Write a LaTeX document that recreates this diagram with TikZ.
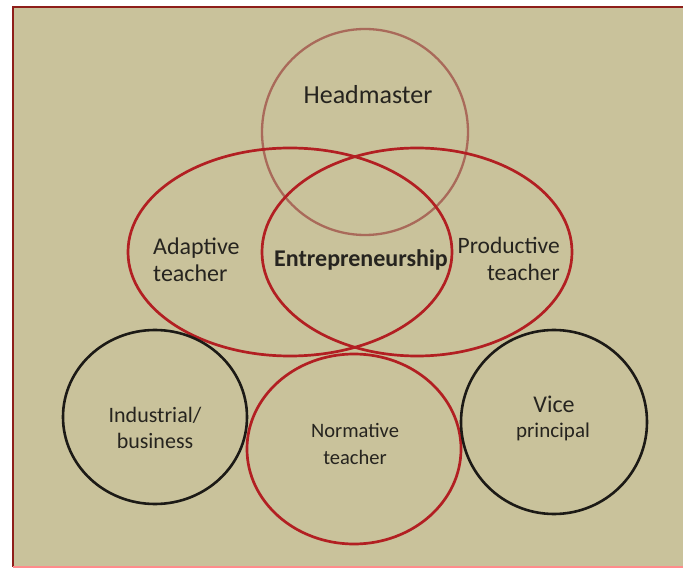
\documentclass[tikz,border=0pt]{standalone}
\usepackage{fontspec}
\setmainfont{Carlito}
\definecolor{bg}{HTML}{C9C29B}
\definecolor{frame}{HTML}{8E1E1A}
\definecolor{redline}{HTML}{B21F22}
\definecolor{headline}{HTML}{A96A5A}
\definecolor{blackline}{HTML}{1C1A16}
\definecolor{txt}{HTML}{26241F}
\tikzset{
  redring/.style={draw=redline, line width=2.7pt},
  headring/.style={draw=headline, line width=2.3pt},
  blackring/.style={draw=blackline, line width=2.6pt},
  lbl/.style={text=txt, inner sep=0pt, align=center},
}
\begin{document}
\begin{tikzpicture}[x=1pt,y=-1pt]
\useasboundingbox (0,0) rectangle (683,569);
\fill[white] (0,0) rectangle (683,569);
\fill[bg] (13,7) rectangle (695,567);
\draw[frame, line width=2.2pt] (13,567) -- (13,7) -- (695,7);
\draw[red!45, line width=1.5pt] (13,567) -- (695,567);
% shapes
\draw[headring] (365,132) circle [radius=103];
\draw[redring] (290,252) ellipse [x radius=162, y radius=104];
\draw[redring] (417,252) ellipse [x radius=155, y radius=104];
\draw[blackring] (155,417) ellipse [x radius=92, y radius=87];
\draw[redring] (354,449) ellipse [x radius=107, y radius=95];
\draw[blackring] (554,422) ellipse [x radius=93, y radius=92];
% labels
\node[lbl, font=\fontsize{26}{30}\selectfont] (head) at (368,95) {Headmaster};
\node[lbl, align=left, font=\fontsize{24}{27}\selectfont, anchor=west] (adapt) at (153,260) {Adaptive\\teacher};
\node[lbl, font=\fontsize{24}{27}\bfseries\selectfont] (entre) at (361,260) {Entrepreneurship};
\node[lbl, align=right, font=\fontsize{23.5}{27}\selectfont, anchor=east] (prod) at (560,259) {Productive\\teacher};
\node[lbl, font=\fontsize{22}{26}\selectfont] (ind) at (155,428) {Industrial/\\business};
\node[lbl, font=\fontsize{20.5}{27}\selectfont] (norm) at (355,444) {Normative\\teacher};
\node[lbl, font=\fontsize{24}{27}\selectfont] (vice) at (554,404) {Vice};
\node[lbl, font=\fontsize{21}{25}\selectfont] (vp) at (553,432) {principal};
\end{tikzpicture}
\end{document}
